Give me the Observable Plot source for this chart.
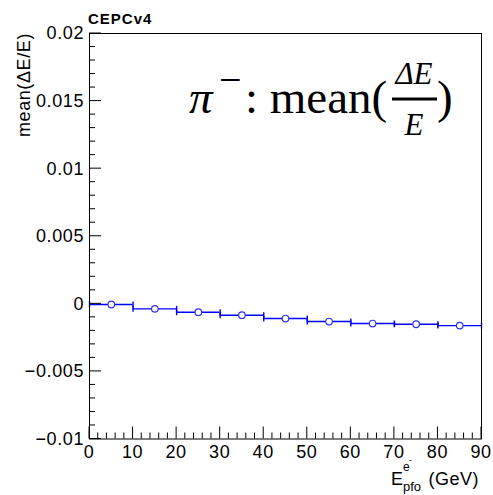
<!DOCTYPE html>
<html>
<head>
<meta charset="utf-8">
<script src="https://cdn.jsdelivr.net/npm/d3@7"></script>
<script src="https://cdn.jsdelivr.net/npm/@observablehq/plot@0.6"></script>
<style>
  html, body { margin: 0; padding: 0; background: #fff; }
  #chart { width: 493px; height: 495px; }
</style>
</head>
<body>
<div id="chart"></div>
<script>
// ---- data ----
const binLo = [0, 10, 20, 30, 40, 50, 60, 70, 80];
const binHi = [10, 20, 30, 40, 50, 60, 70, 80, 90];
const binCenter = [5, 15, 25, 35, 45, 55, 65, 75, 85];
const meanValues = [-0.00005, -0.00037, -0.00062, -0.00084, -0.00109, -0.00131, -0.00146, -0.00151, -0.00161];

const yMajorTicks = [-0.01, -0.005, 0, 0.005, 0.01, 0.015, 0.02];
const yTickLabels = ["\u22120.01", "\u22120.005", "0", "0.005", "0.01", "0.015", "0.02"];
const yMinorTicks = d3.range(-10, 21).map(i => i / 1000);
const xMajorTicks = [0, 10, 20, 30, 40, 50, 60, 70, 80, 90];
const xTickLabels = ["0", "10", "20", "30", "40", "50", "60", "70", "80", "90"];
const xMinorTicks = d3.range(0, 46).map(i => i * 2);

const bins = binLo.map((lo, i) => ({lo, hi: binHi[i], x: binCenter[i], v: meanValues[i]}));
const edgeTicks = bins.flatMap(b => [{x: b.lo, v: b.v}, {x: b.hi, v: b.v}]);

const blue = "#0000ff";
const vbar = { draw(ctx, size) { const h = Math.sqrt(size / Math.PI); ctx.moveTo(0, -h); ctx.lineTo(0, h); } };

const W = 493, H = 495;
const plot = Plot.plot({
  width: W, height: H,
  marginLeft: 89, marginRight: 12, marginTop: 33, marginBottom: 56.5,
  x: {domain: [0, 90], axis: null},
  y: {domain: [-0.01, 0.02], axis: null},
  style: {background: "#fff"},
  marks: [
    Plot.ruleY(bins, {x1: "lo", x2: "hi", y: "v", stroke: blue, strokeWidth: 1.4}),
    Plot.dot(edgeTicks, {x: "x", y: "v", symbol: vbar, r: 3, stroke: blue, strokeWidth: 1.4}),
    Plot.dot(bins, {x: "x", y: "v", r: 3.3, stroke: "#3333ff", fill: "#fff", strokeWidth: 1.2}),
    Plot.frame({stroke: "#000", strokeWidth: 1})
  ]
});
document.getElementById("chart").appendChild(plot);

const svg = d3.select(plot);
const sx = plot.scale("x"), sy = plot.scale("y");
const x0 = sx.apply(0), yB = sy.apply(-0.01);
const sans = "'Liberation Sans', Arial, Helvetica, sans-serif";
const serif = "'Liberation Serif', 'Times New Roman', serif";

const ax = svg.append("g").attr("stroke", "#000").attr("stroke-width", 1);
// y ticks (inward)
yMinorTicks.forEach(v => {
  const major = yMajorTicks.some(m => Math.abs(m - v) < 1e-9);
  const y = sy.apply(v);
  ax.append("line").attr("x1", x0).attr("x2", x0 + (major ? 12 : 6)).attr("y1", y).attr("y2", y);
});
// x ticks (inward)
xMinorTicks.forEach(v => {
  const major = v % 10 === 0;
  const x = sx.apply(v);
  ax.append("line").attr("x1", x).attr("x2", x).attr("y1", yB).attr("y2", yB - (major ? 12 : 6));
});

const tl = svg.append("g").attr("font-family", sans).attr("font-size", 18).attr("fill", "#000").attr("letter-spacing", "0.6px");
yMajorTicks.forEach((v, i) => {
  tl.append("text").attr("x", x0 - 5).attr("y", sy.apply(v)).attr("dy", "0.36em")
    .attr("text-anchor", "end").text(yTickLabels[i]);
});
xMajorTicks.forEach((v, i) => {
  tl.append("text").attr("x", sx.apply(v)).attr("y", 458)
    .attr("text-anchor", "middle").text(xTickLabels[i]);
});

// y title
svg.append("text").attr("transform", "translate(30,33) rotate(-90)")
  .attr("text-anchor", "end").attr("font-family", sans).attr("font-size", 18).attr("letter-spacing", "0.6px")
  .text("mean(\u0394E/E)");

// x title
const xt = svg.append("g").attr("font-family", sans).attr("fill", "#000").attr("text-anchor", "start");
xt.append("text").attr("x", 391).attr("y", 485).attr("font-size", 18).text("E");
xt.append("text").attr("x", 403).attr("y", 491).attr("font-size", 13).text("pfo");
xt.append("text").attr("x", 403).attr("y", 471).attr("font-size", 12).text("e");
xt.append("text").attr("x", 409).attr("y", 463).attr("font-size", 9).text("-");
xt.append("text").attr("x", 479).attr("y", 485).attr("font-size", 18).attr("text-anchor", "end").attr("letter-spacing", "0.5px").text("(GeV)");

// header
svg.append("text").attr("x", 88).attr("y", 24).attr("font-family", sans).attr("font-weight", "bold")
  .attr("text-anchor", "start").attr("font-size", 15).attr("letter-spacing", "1px").text("CEPCv4");

// annotation
const an = svg.append("g").attr("font-family", serif).attr("fill", "#000").attr("text-anchor", "start");
an.append("text").attr("x", 189).attr("y", 113).attr("font-size", 47).attr("font-style", "italic").text("\u03c0");
an.append("text").attr("x", 219).attr("y", 93).attr("font-size", 40).text("\u2212");
an.append("text").attr("x", 245).attr("y", 113).attr("font-size", 47).text(": mean(");
an.append("text").attr("x", 414).attr("y", 84).attr("font-size", 31).attr("font-style", "italic").attr("text-anchor", "middle").text("\u0394E");
an.append("line").attr("x1", 392).attr("x2", 437).attr("y1", 99).attr("y2", 99).attr("stroke", "#000").attr("stroke-width", 3);
an.append("text").attr("x", 414).attr("y", 135).attr("font-size", 31).attr("font-style", "italic").attr("text-anchor", "middle").text("E");
an.append("text").attr("x", 437).attr("y", 113).attr("font-size", 47).text(")");
</script>
</body>
</html>
